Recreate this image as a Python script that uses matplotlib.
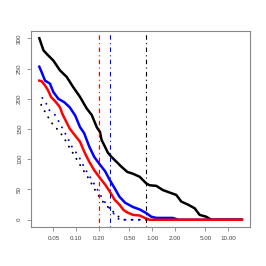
import numpy as np
import matplotlib
matplotlib.use("Agg")
import matplotlib.pyplot as plt

# -------- data --------
black_x = [0.0326, 0.037, 0.0409, 0.05, 0.0609, 0.0749, 0.0913, 0.112, 0.137, 0.16, 0.186, 0.205,
           0.215, 0.24, 0.26, 0.285, 0.33, 0.39, 0.47, 0.558, 0.683, 0.834, 0.924, 1.13, 1.38,
           1.69, 2.07, 2.41, 2.95, 3.61, 4.2, 5.13, 5.96, 15.1]
black_y = [300, 280, 274, 263, 247, 236, 219, 203, 184, 173, 153, 145,
           132, 120, 111, 105, 97, 88, 79, 76, 71, 60, 57, 56, 49,
           45, 41, 30, 25, 19, 8, 5, 0, 0]

blue_x = [0.0326, 0.035, 0.0388, 0.045, 0.05, 0.058, 0.0699, 0.0818, 0.097, 0.112, 0.124,
          0.127, 0.148, 0.172, 0.205, 0.24, 0.275, 0.32, 0.37, 0.44, 0.558, 0.683, 0.834,
          0.97, 1.13, 1.86, 2.2, 15.1]
blue_y = [253, 244, 230, 225, 211, 200, 194, 186, 172, 153, 145,
          143, 121, 104, 91, 80, 66, 52, 38, 28, 21, 17, 11,
          5, 3, 3, 0, 0]

red_x = [0.0326, 0.035, 0.0388, 0.0425, 0.0465, 0.0535, 0.0609, 0.0667, 0.0818, 0.0913,
         0.112, 0.13, 0.148, 0.172, 0.205, 0.24, 0.275, 0.32, 0.37, 0.42, 0.47, 0.558,
         0.683, 0.797, 0.924, 15.1]
red_y = [230, 229, 222, 214, 203, 195, 186, 173, 151, 143,
         129, 110, 96, 82, 69, 58, 47, 33, 25, 16, 12, 8,
         7, 3, 0, 0]

dot_black_x = [0.0345, 0.0409, 0.05, 0.055, 0.067, 0.0799, 0.099, 0.122, 0.149, 0.175,
               0.205, 0.24, 0.29, 0.34, 0.40, 15.1]
dot_black_y = [190, 173, 156, 151, 138, 121, 102, 83, 66, 50,
               36, 25, 16, 8, 0, 0]

dot_blue_x = [0.0326, 0.0379, 0.0443, 0.0527, 0.0609, 0.0749, 0.0874, 0.1075, 0.132, 0.16,
              0.186, 0.225, 0.275, 0.32, 0.37, 15.1]
dot_blue_y = [205, 199, 181, 173, 159, 138, 121, 105, 83, 66,
              52, 33, 19, 8, 0, 0]

vlines_x = [0.20, 0.28, 0.834]
vlines_col = ["#FF0000", "#0000FF", "#000000"]

xticks = [0.05, 0.10, 0.20, 0.50, 1.00, 2.00, 5.00, 10.00]
xlabels = ["0.05", "0.10", "0.20", "0.50", "1.00", "2.00", "5.00", "10.00"]
yticks = [0, 50, 100, 150, 200, 250, 300]

# -------- figure --------
fig = plt.figure(figsize=(2.66, 2.66), dpi=100)
ax = fig.add_axes([31 / 266, 1 - 227 / 266, 219 / 266, 196 / 266])

ax.plot(dot_black_x, dot_black_y, color="black", lw=1.4, ls=(0, (0.1, 3.6)), dash_capstyle="round")
ax.plot(dot_blue_x, dot_blue_y, color="#0000FF", lw=1.4, ls=(1.8, (0.1, 3.6)), dash_capstyle="round")
ax.plot(black_x, black_y, color="black", lw=1.8)
ax.plot(blue_x, blue_y, color="#0000FF", lw=1.8)
ax.plot(red_x, red_y, color="#FF0000", lw=1.8)

for xv, c in zip(vlines_x, vlines_col):
    ax.axvline(xv, color=c, lw=0.8, ls=(0, (1, 3, 4, 3)))

ax.set_xscale("log")
ax.set_xlim(10 ** -1.596, 10 ** 1.286)
ax.set_ylim(-12, 312)
ax.set_xticks(xticks)
ax.set_xticklabels(xlabels)
ax.minorticks_off()
ax.set_yticks(yticks)
ax.set_yticklabels([str(v) for v in yticks], rotation=90, va="center")

for s in ax.spines.values():
    s.set_color("#888888")
    s.set_linewidth(0.8)
ax.tick_params(axis="both", colors="#888888", labelcolor="#444444", labelsize=4.5,
               length=3, width=0.6, pad=3.5, labelfontfamily="Liberation Sans")

fig.savefig("out.png", dpi=100)
